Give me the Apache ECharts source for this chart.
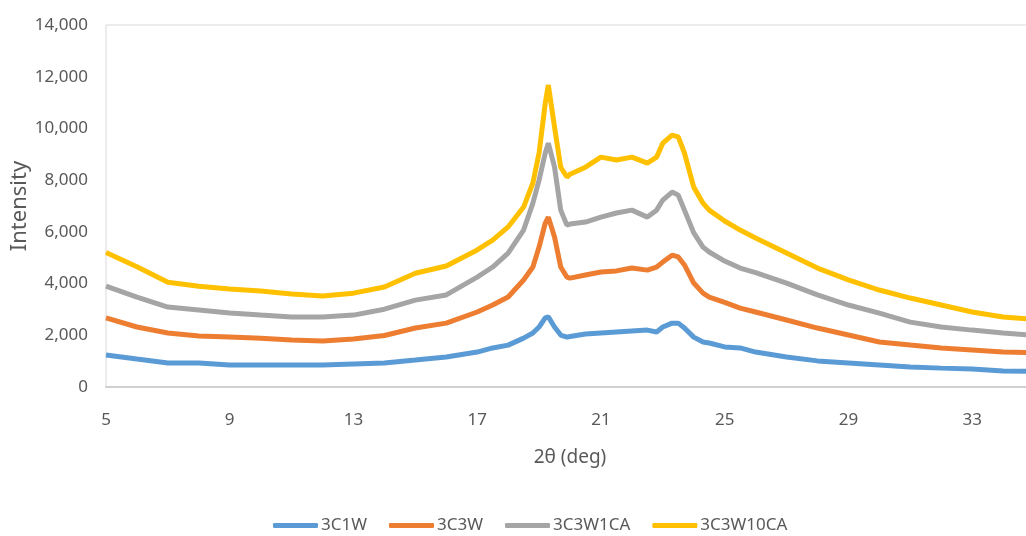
<!DOCTYPE html>
<html>
<head>
<meta charset="utf-8">
<script src="https://cdn.jsdelivr.net/npm/echarts@6/dist/echarts.min.js"></script>
<style>
html,body{margin:0;padding:0;background:#fff;}
#c{width:1026px;height:536px;}
</style>
</head>
<body>
<div id="c"></div>
<script>
var twoTheta = [5,6,7,8,9,10,11,12,13,14,15,16,17,17.5,18,18.5,18.8,19,19.2,19.3,19.5,19.7,19.9,20,20.5,21,21.5,22,22.5,22.8,23,23.3,23.5,23.7,24,24.3,24.5,25,25.5,26,27,28,29,30,31,32,33,34,35];
var s3C1W = [1240,1080,930,930,850,850,850,850,890,930,1040,1160,1350,1510,1620,1890,2090,2320,2670,2710,2320,2010,1930,1950,2050,2090,2130,2170,2200,2130,2320,2470,2470,2280,1930,1740,1700,1550,1510,1350,1160,1010,930,850,770,730,700,620,600];
var s3C3W = [2670,2320,2090,1970,1930,1890,1820,1780,1860,1990,2280,2470,2900,3170,3480,4140,4640,5410,6340,6570,5800,4640,4250,4210,4330,4450,4490,4600,4520,4640,4830,5100,5030,4720,4020,3630,3480,3270,3050,2900,2590,2280,2010,1740,1620,1510,1430,1350,1330];
var s3C3W1CA = [3900,3480,3090,2980,2860,2780,2710,2710,2780,3010,3360,3560,4250,4640,5180,6070,7110,8000,9050,9430,8500,6840,6260,6300,6380,6570,6730,6840,6570,6840,7230,7540,7420,6840,5960,5410,5220,4870,4600,4420,4020,3560,3170,2860,2510,2320,2200,2090,2000];
var s3C3W10CA = [5200,4650,4050,3900,3790,3710,3600,3520,3630,3870,4400,4680,5300,5680,6190,6960,7890,9050,10980,11680,10050,8500,8120,8230,8500,8890,8780,8890,8660,8890,9430,9740,9670,9050,7730,7110,6840,6420,6070,5760,5180,4600,4140,3750,3440,3170,2900,2710,2620];
var seriesNames = ['3C1W','3C3W','3C3W1CA','3C3W10CA'];
var seriesValues = [s3C1W, s3C3W, s3C3W1CA, s3C3W10CA];
var colors = ['#5B9BD5','#ED7D31','#A5A5A5','#FFC000'];

function pairs(vals){ return twoTheta.map(function(x,i){ return [x, vals[i]]; }); }

var chart = echarts.init(document.getElementById('c'), null, {renderer:'canvas'});
var font = '"Noto Sans", "Open Sans", sans-serif';
chart.setOption({
  animation: false,
  backgroundColor: '#ffffff',
  color: colors,
  grid: { left: 106, right: -8, top: 25, bottom: 149, show: true, borderColor: '#d9d9d9', borderWidth: 1, containLabel: false, outerBoundsMode: 'none' },
  legend: {
    data: seriesNames,
    left: 268, top: 512,
    icon: 'roundRect', itemWidth: 45, itemHeight: 5, itemGap: 22,
    textStyle: { color: '#595959', fontSize: 17, fontFamily: font, padding: [0,0,0,-2] }
  },
  xAxis: {
    type: 'value', min: 5, max: 35, interval: 4,
    name: '2θ (deg)', nameLocation: 'middle', nameGap: 61, nameMoveOverlap: false,
    nameTextStyle: { color: '#595959', fontSize: 19, fontFamily: font },
    axisLine: { show: true, lineStyle: { color: '#d0d0d0', width: 2 } },
    axisTick: { show: false },
    splitLine: { show: false },
    axisLabel: { color: '#595959', fontSize: 17, fontFamily: font, margin: 25, showMaxLabel: false }
  },
  yAxis: {
    type: 'value', min: 0, max: 14000, interval: 2000,
    name: 'Intensity', nameLocation: 'middle', nameGap: 75, nameMoveOverlap: false,
    nameTextStyle: { color: '#595959', fontSize: 22, fontFamily: font },
    axisLine: { show: false },
    axisTick: { show: false },
    splitLine: { show: false },
    axisLabel: { color: '#595959', fontSize: 17, fontFamily: font, margin: 18,
      formatter: function(v){ return v.toLocaleString('en-US'); } }
  },
  series: seriesNames.map(function(n,i){
    return { name: n, type: 'line', data: pairs(seriesValues[i]), showSymbol: false, symbol: 'none',
      lineStyle: { width: 5, color: colors[i] }, itemStyle: { color: colors[i] } };
  })
});
</script>
</body>
</html>
